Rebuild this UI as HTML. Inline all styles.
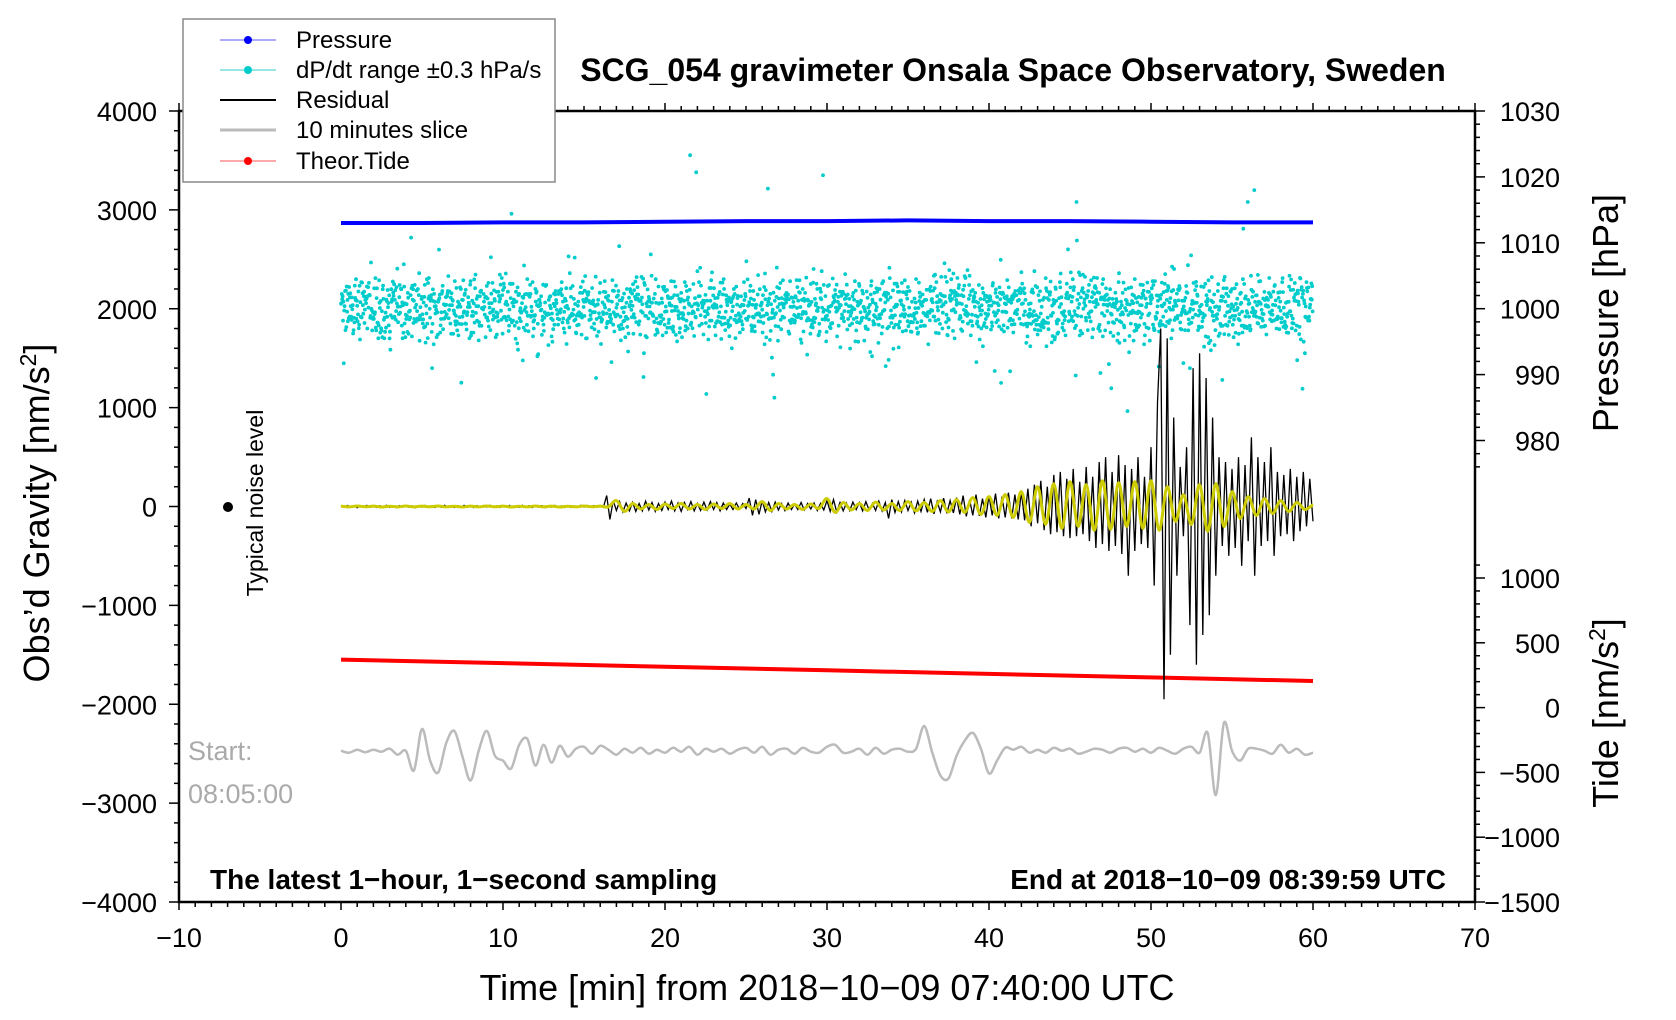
<!DOCTYPE html>
<html><head><meta charset="utf-8"><style>
html,body{margin:0;padding:0;background:#fff;}
svg{display:block;font-family:"Liberation Sans",sans-serif;}
</style></head><body>
<svg id="chart" width="1676" height="1020" viewBox="0 0 1676 1020" xmlns="http://www.w3.org/2000/svg">
<rect width="1676" height="1020" fill="#fff"/>
<g id="plot"></g>
<g id="axes"></g>
<text x="1013" y="81" font-size="32" font-weight="bold" text-anchor="middle">SCG_054 gravimeter Onsala Space Observatory, Sweden</text>
<text transform="translate(49,513) rotate(-90)" font-size="36" text-anchor="middle">Obs’d Gravity [nm/s<tspan dy="-13" font-size="23">2</tspan><tspan dy="13">]</tspan></text>
<text transform="translate(1618,313) rotate(-90)" font-size="36" text-anchor="middle">Pressure [hPa]</text>
<text transform="translate(1618,713) rotate(-90)" font-size="36" text-anchor="middle">Tide [nm/s<tspan dy="-13" font-size="23">2</tspan><tspan dy="13">]</tspan></text>
<text x="827" y="1000" font-size="36" text-anchor="middle">Time [min] from 2018−10−09 07:40:00 UTC</text>
<text x="210" y="889" font-size="28" font-weight="bold">The latest 1−hour, 1−second sampling</text>
<text x="1446" y="889" font-size="28" font-weight="bold" text-anchor="end">End at 2018−10−09 08:39:59 UTC</text>
<text x="188" y="760" font-size="27" fill="#aaa">Start:</text>
<text x="188" y="803" font-size="27" fill="#aaa">08:05:00</text>
<text transform="translate(263,503) rotate(-90)" font-size="23" text-anchor="middle">Typical noise level</text>
<circle cx="228" cy="507" r="5" fill="#000"/>
<g id="legend">
<rect x="183" y="19" width="372" height="163" fill="#fff" stroke="#888" stroke-width="1.5"/>
<g><line x1="220" y1="40" x2="276" y2="40" stroke="#55f" stroke-width="1"/><circle cx="248" cy="40" r="4" fill="#00f"/><text x="296" y="48" font-size="24">Pressure</text></g>
<g><line x1="220" y1="70" x2="276" y2="70" stroke="#3cc" stroke-width="1"/><circle cx="248" cy="70" r="4" fill="#0cc"/><text x="296" y="78" font-size="24">dP/dt range ±0.3 hPa/s</text></g>
<g><line x1="220" y1="100" x2="276" y2="100" stroke="#000" stroke-width="2"/><text x="296" y="108" font-size="24">Residual</text></g>
<g><line x1="220" y1="130" x2="276" y2="130" stroke="#bbb" stroke-width="3"/><text x="296" y="138" font-size="24">10 minutes slice</text></g>
<g><line x1="220" y1="161" x2="276" y2="161" stroke="#f55" stroke-width="1"/><circle cx="248" cy="161" r="4" fill="#f00"/><text x="296" y="169" font-size="24">Theor.Tide</text></g>
</g>
</svg>
<script>
// ---- data ----
var xTicks = [-10,0,10,20,30,40,50,60,70];
var gravTicks = [4000,3000,2000,1000,0,-1000,-2000,-3000,-4000];
var gravTickLabels = ["4000","3000","2000","1000","0","−1000","−2000","−3000","−4000"];
var presTicks = [1030,1020,1010,1000,990,980];
var tideTicks = [1000,500,0,-500,-1000,-1500];
var tideTickLabels = ["1000","500","0","−500","−1000","−1500"];
var xTickLabels = ["−10","0","10","20","30","40","50","60","70"];

var pressureT = [0,5,10,15,20,25,30,35,40,45,50,55,60];
var pressureV = [1013.0,1013.0,1013.1,1013.1,1013.2,1013.3,1013.3,1013.4,1013.3,1013.3,1013.2,1013.1,1013.1];
var tideT = [0,10,20,30,40,50,60];
var tideV = [370,343,315,288,260,233,205];
var residualStep = 0.2;
var residualV = [
5,-8,10,-6,9,-12,7,-5,11,-9,
6,-10,8,-7,12,-9,5,-11,9,-6,
10,-8,7,-12,9,-6,11,-8,6,-10,
8,-9,12,-7,6,-10,9,-8,11,-6,
7,-11,9,-8,10,-6,12,-9,7,-10,
9,-7,11,-10,6,-9,12,-8,8,-11,
10,-6,9,-12,8,-7,11,-9,6,-10,
8,-10,7,-9,12,-6,10,-8,9,-7,
10,-8,110,-130,60,-40,50,-55,35,-45,
40,-50,30,-45,55,-35,40,-50,30,-40,
45,-30,55,-45,35,-50,40,-30,50,-45,
30,-40,45,-35,50,-30,40,-45,35,-30,
25,-30,35,-25,30,-20,85,-90,70,-80,
60,-55,40,-50,45,-35,30,-40,35,-30,
25,-30,40,-35,30,-25,35,-40,30,-35,
60,-50,70,-55,40,-45,35,-40,45,-30,
40,-45,50,-35,30,-40,55,-45,40,-120,
70,-60,50,-55,60,-40,45,-65,55,-50,
70,-60,80,-75,50,-55,85,-70,60,-65,
90,-80,110,-100,70,-90,120,-95,80,-110,
110,-90,130,-120,100,-110,140,-120,120,-130,
150,-140,180,-200,220,-170,260,-240,200,-280,
320,-260,350,-300,280,-320,380,-300,250,-280,
400,-350,300,-420,450,-380,500,-450,350,-400,
520,-480,420,-700,380,-450,500,-380,300,-420,
600,-800,1050,1800,-1950,1700,-1500,900,-700,400,
-300,600,-1200,1400,-1600,1550,-1300,1300,-1100,900,
-700,500,-400,450,-500,380,-420,500,-600,420,
-350,700,-700,500,-400,450,-350,600,-500,350,
-300,320,-280,380,-350,300,-250,350,-200,280,
-150];
var filteredStep = 0.5;
var filteredV = [
4,-4,5,-3,4,-5,3,-4,5,-4,4,-3,5,-4,3,-5,4,-4,5,-3,
4,-5,3,-4,5,-4,4,-5,3,-4,5,-3,4,-4,60,-50,30,-25,20,-30,
25,-20,30,-25,20,-30,25,-20,30,-25,20,-25,50,-40,30,-25,20,-30,25,-20,
80,-60,40,-35,30,-40,45,-35,30,-40,50,-45,40,-50,60,-55,70,-60,90,-80,
100,-90,120,-110,150,-160,200,-180,230,-220,250,-200,220,-240,260,-230,240,-200,250,-220,
260,-240,200,-150,120,-180,220,-250,230,-200,150,-120,100,-90,80,-70,60,-50,40,-30,
20];
var sliceBase = -2470;
var sliceStep = 0.5;
var sliceV = [
0,-20,10,-15,10,-10,20,-40,0,-200,
220,-100,-220,80,200,-60,-300,0,200,-50,
-100,-180,60,120,-150,60,-120,50,-60,20,
40,-30,50,10,-40,20,-20,30,-30,10,
-20,30,-10,40,-40,20,-10,20,-30,10,
30,-20,40,-40,10,20,-30,30,-10,-20,
40,60,-20,-10,20,-40,30,-30,10,20,
-10,20,250,-20,-250,-280,-50,100,180,20,
-230,-100,30,10,40,-20,10,-20,30,0,
20,-30,-10,20,10,-20,20,30,-10,20,
-20,30,0,-30,20,40,-20,180,-450,280,
0,-100,20,20,0,-30,60,-20,20,-40,
-20];
var dpdtCenter = 2000;
var dpdtDev = [
5,-12,18,-3,22,-8,-25,11,3,-16,27,-5,9,-20,14,0,-9,31,-14,6,
-22,10,-4,19,-30,7,13,-11,2,24,-17,45,-6,16,-2,-28,8,-13,20,-7,
12,-19,3,26,-9,-60,15,-1,7,-24,18,-10,4,33,-15,9,-5,21,-27,2,
-8,14,-21,6,28,-3,-14,10,-32,17,1,-6,23,-18,52,-11,8,-26,13,-2,
19,-9,4,-17,25,-12,7,-35,15,-4,11,-22,30,-7,2,-13,20,-48,9,-1,
-16,23,-6,12,-28,5,18,-10,-3,27,-20,8,-14,36,-5,10,-24,3,16,-9,
7,-30,14,-2,21,-15,-70,9,26,-11,4,-19,13,-6,29,-23,1,18,-8,11,
-12,6,-25,17,3,-9,32,-16,8,-4,24,-29,12,55,-7,15,-21,5,-13,22,
-3,19,-11,28,-18,2,-33,10,16,-6,-22,9,4,-14,25,-8,38,-17,6,-26,
14,-5,21,-12,1,-27,11,17,-9,30,-3,-15,8,-40,20,-7,13,-24,4,27,
-10,3,18,-20,9,-6,34,-13,-1,22,-29,7,15,-4,-90,12,-18,26,-8,5,
16,-23,2,11,-14,29,-6,-31,20,8,-12,3,25,-19,10,-2,-26,17,135,-11,
-7,24,-15,6,19,-28,1,13,-9,35,-21,10,-4,16,-33,7,23,-12,2,-18,
11,-3,28,-16,5,-10,20,-25,14,-58,9,31,-7,-19,4,17,-13,26,-1,-22,
22,-14,7,-5,30,-24,12,3,-17,9,-36,18,-2,-8,27,-11,15,-20,46,-6,
-19,8,16,-30,4,21,-9,-13,33,-4,10,-27,19,2,-15,24,-6,-38,13,7,
3,-21,26,-7,12,-18,-75,15,-3,29,-12,6,-24,18,-1,-10,37,-16,9,-28,
-5,17,-13,23,-26,8,2,-19,31,-9,14,-34,5,20,-11,27,-4,-22,11,60,
13,-8,22,-17,1,34,-25,6,-12,18,-3,-29,15,9,-20,-65,25,-7,4,-14,
-24,10,3,-11,27,-6,16,-32,8,21,-15,-2,30,-19,12,-9,24,-27,5,17,
9,-16,28,-4,-23,14,-8,35,-13,1,-30,19,6,-10,23,-21,-55,11,16,-3,
-14,26,-6,13,-19,4,22,-28,10,-1,32,-12,-7,18,-25,8,29,-16,3,-9,
20,-11,5,-36,15,-3,25,-18,9,-22,12,120,-8,-15,28,-5,17,-26,2,14,
-6,23,-20,11,-2,31,-13,-24,7,19,-10,26,-17,4,-31,15,-45,21,-8,10];
var dpdtScale = 10;
var dpdtPassMultipliers = [1,197,311,433,89];
var dpdtPassScales = [1,0.8,1.15,0.6,0.9];

// ---- scales ----
var L=179,R=1475,T=111,B=902;
function X(t){return L+(t+10)*(R-L)/80;}
function YG(v){return T+(4000-v)*(B-T)/8000;}
function YP(p){return T+(1030-p)*6.59;}
function YT(v){return B-(v+1500)*(B-578)/2500;}

var NS='http://www.w3.org/2000/svg';
var plot=document.getElementById('plot');
var axes=document.getElementById('axes');
function mk(tag,attrs,parent){var e=document.createElementNS(NS,tag);for(var k in attrs)e.setAttribute(k,attrs[k]);parent.appendChild(e);return e;}
function smooth(pts){
  var d='M'+pts[0][0].toFixed(1)+' '+pts[0][1].toFixed(1);
  for(var i=0;i<pts.length-1;i++){
    var p0=pts[i-1]||pts[i],p1=pts[i],p2=pts[i+1],p3=pts[i+2]||p2;
    var c1x=p1[0]+(p2[0]-p0[0])/6,c1y=p1[1]+(p2[1]-p0[1])/6;
    var c2x=p2[0]-(p3[0]-p1[0])/6,c2y=p2[1]-(p3[1]-p1[1])/6;
    d+='C'+c1x.toFixed(1)+' '+c1y.toFixed(1)+' '+c2x.toFixed(1)+' '+c2y.toFixed(1)+' '+p2[0].toFixed(1)+' '+p2[1].toFixed(1);
  }
  return d;
}

// slice (gray)
var pts=[];
for(var i=0;i<sliceV.length;i++){pts.push([X(i*sliceStep),YG(sliceBase+sliceV[i])]);}
var sl=mk('path',{d:smooth(pts),fill:'none',stroke:'#bbb','stroke-width':2.5},plot);



// dP/dt dots
var dg=mk('g',{fill:'#0cc'},plot);


var n=dpdtDev.length;
for(var p=0;p<dpdtPassMultipliers.length;p++){
  for(var i=0;i<n;i++){
    var j=(i*dpdtPassMultipliers[p]+p*37)%n;
    var t=(j+p/dpdtPassMultipliers.length)*60/n;
    var c=mk('circle',{cx:X(t).toFixed(1),cy:YG(dpdtCenter+dpdtDev[i]*dpdtScale*dpdtPassScales[p]).toFixed(1),r:1.9},dg);
    
    
  }
}

// pressure
var d='';
for(var i=0;i<pressureT.length;i++){d+=(i?'L':'M')+X(pressureT[i]).toFixed(1)+' '+YP(pressureV[i]).toFixed(1);}
var pl=mk('path',{d:d,fill:'none',stroke:'#00f','stroke-width':4},plot);



// tide
d='';
for(var i=0;i<tideT.length;i++){d+=(i?'L':'M')+X(tideT[i]).toFixed(1)+' '+YT(tideV[i]).toFixed(1);}
var tl=mk('path',{d:d,fill:'none',stroke:'#f00','stroke-width':4},plot);



// residual
d='';
for(var i=0;i<residualV.length;i++){d+=(i?'L':'M')+X(i*residualStep).toFixed(1)+' '+YG(residualV[i]).toFixed(1);}
var rl=mk('path',{d:d,fill:'none',stroke:'#000','stroke-width':1.3},plot);



// filtered (yellow)
pts=[];
for(var i=0;i<filteredV.length;i++){pts.push([X(i*filteredStep),YG(filteredV[i])]);}
var yl=mk('path',{d:smooth(pts),fill:'none',stroke:'#cc0','stroke-width':3},plot);



// frame
var fr=mk('rect',{x:L,y:T,width:R-L,height:B-T,fill:'none',stroke:'#000','stroke-width':2.5},axes);



// x ticks (bottom and top)
for(var m=-10;m<=70;m++){
  var len=(m%10===0)?8:5;
  mk('line',{x1:X(m),y1:B,x2:X(m),y2:B+len,stroke:'#000','stroke-width':1.5},axes);
  mk('line',{x1:X(m),y1:T,x2:X(m),y2:T-len,stroke:'#000','stroke-width':1.5},axes);
}
for(var i=0;i<xTicks.length;i++){
  var tx=mk('text',{x:X(xTicks[i]),y:947,'font-size':27,'text-anchor':'middle'},axes);
  tx.textContent=xTickLabels[i];
  
  
}
// gravity ticks
for(var v=-4000;v<=4000;v+=200){
  var len=(v%1000===0)?10:5;
  mk('line',{x1:L,y1:YG(v),x2:L-len,y2:YG(v),stroke:'#000','stroke-width':1.5},axes);
}
for(var i=0;i<gravTicks.length;i++){
  var tx=mk('text',{x:157,y:YG(gravTicks[i])+10,'font-size':27,'text-anchor':'end'},axes);
  tx.textContent=gravTickLabels[i];
  
  
}
// pressure ticks
for(var p=1030;p>=976;p-=2){
  var len=(p%10===0)?10:5;
  mk('line',{x1:R,y1:YP(p),x2:R+len,y2:YP(p),stroke:'#000','stroke-width':1.5},axes);
}
for(var i=0;i<presTicks.length;i++){
  var tx=mk('text',{x:1560,y:YP(presTicks[i])+10,'font-size':27,'text-anchor':'end'},axes);
  tx.textContent=presTicks[i];
  
  
}
// tide ticks
for(var v=-1500;v<=1100;v+=100){
  var len=(v%500===0)?10:5;
  mk('line',{x1:R,y1:YT(v),x2:R+len,y2:YT(v),stroke:'#000','stroke-width':1.5},axes);
}
for(var i=0;i<tideTicks.length;i++){
  var tx=mk('text',{x:1560,y:YT(tideTicks[i])+10,'font-size':27,'text-anchor':'end'},axes);
  tx.textContent=tideTickLabels[i];
  
  
}
</script>
</body></html>
